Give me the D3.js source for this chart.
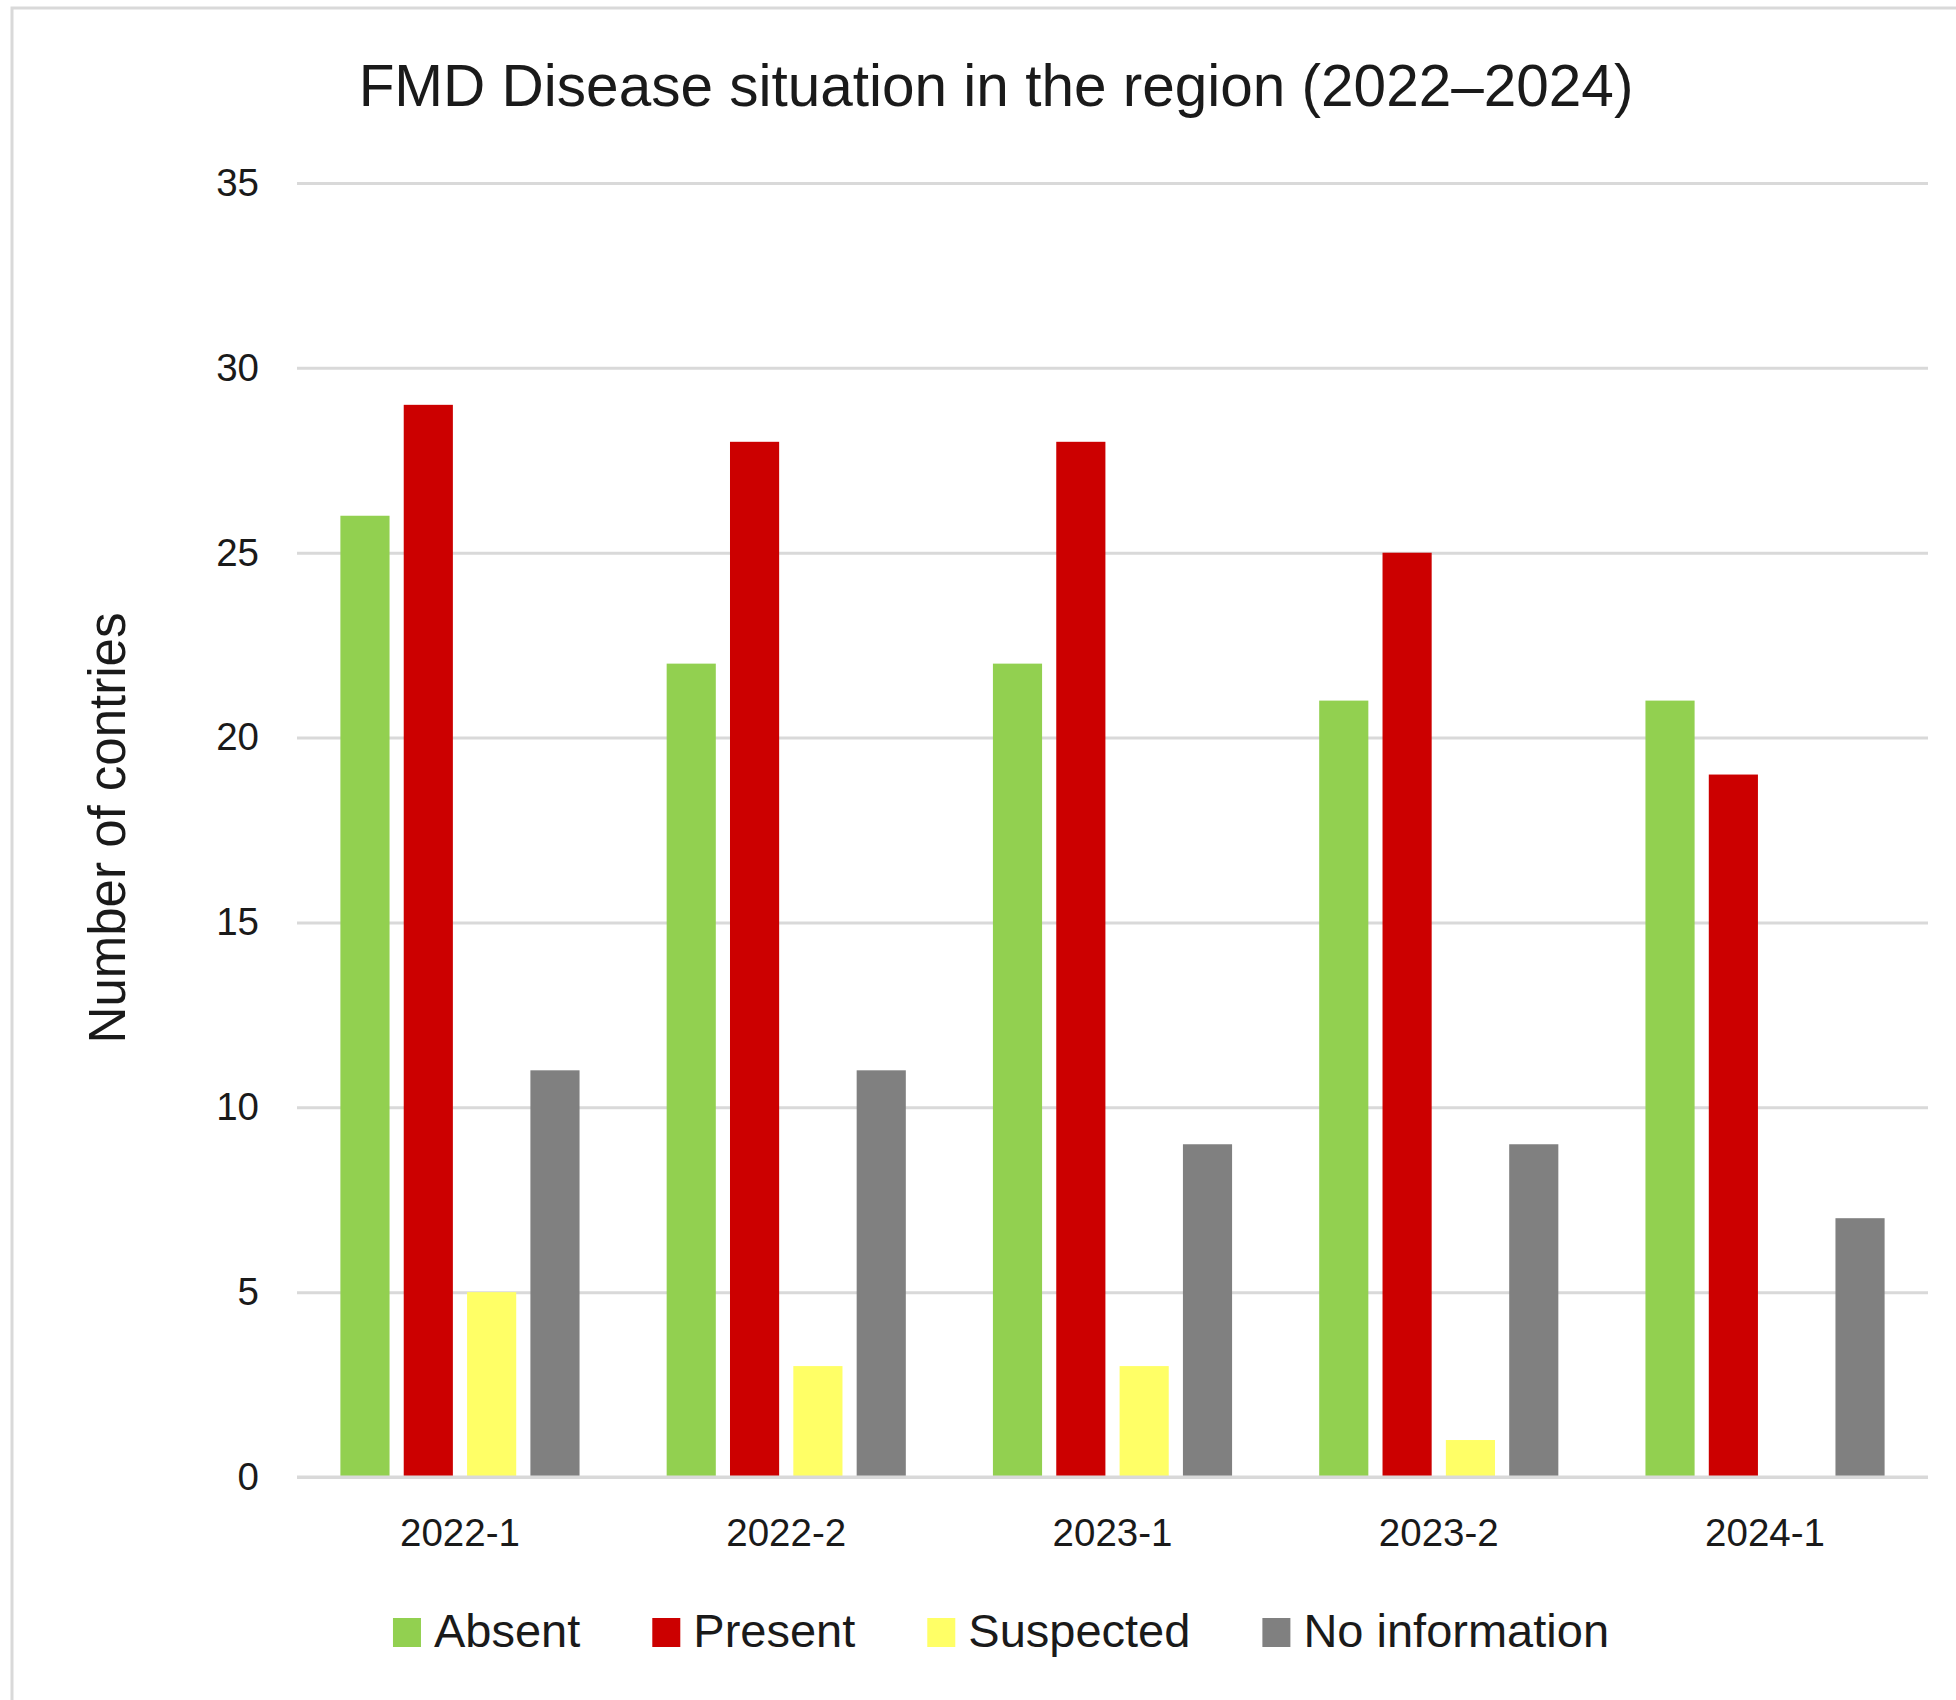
<!DOCTYPE html>
<html>
<head>
<meta charset="utf-8">
<script src="https://cdn.jsdelivr.net/npm/d3@7"></script>
<style>
  body { margin: 0; background: #fff; }
  text { font-family: "Liberation Sans", Arial, sans-serif; fill: #1a1a1a; }
</style>
</head>
<body>
<script>
// data
var periods = ["2022-1", "2022-2", "2023-1", "2023-2", "2024-1"];
var seriesNames = ["Absent", "Present", "Suspected", "No information"];
var absent = [26, 22, 22, 21, 21];
var present = [29, 28, 28, 25, 19];
var suspected = [5, 3, 3, 1, 0];
var noInfo = [11, 11, 9, 9, 7];
var yTicks = [0, 5, 10, 15, 20, 25, 30, 35];
var colors = ["#92d050", "#cc0000", "#ffff66", "#808080"];

var values = [absent, present, suspected, noInfo];

var width = 1956;
var height = 1700;
var margin = {left: 297, right: 28, top: 183, bottom: 223};
var w = width - margin.left - margin.right;
var h = height - margin.top - margin.bottom;

var svg = d3.select("body")
  .append("svg")
  .attr("width", width)
  .attr("height", height);

// chart frame (cropped on right and bottom)
svg.append("rect")
  .attr("x", 12)
  .attr("y", 8)
  .attr("width", 2000)
  .attr("height", 2000)
  .attr("fill", "none")
  .attr("stroke", "#d9d9d9")
  .attr("stroke-width", 3);

svg.append("text")
  .attr("x", 996)
  .attr("y", 106)
  .attr("text-anchor", "middle")
  .style("font-size", "58.5px")
  .text("FMD Disease situation in the region (2022\u20132024)");

var g = svg.append("g")
  .attr("transform", "translate(" + margin.left + "," + margin.top + ")");

var x0 = d3.scaleBand()
  .domain(periods)
  .range([0, w])
  .paddingInner(0.267)
  .paddingOuter(0.133);

var x1 = d3.scaleBand()
  .domain(d3.range(seriesNames.length))
  .range([0, x0.bandwidth()])
  .paddingInner(0.224);

var y = d3.scaleLinear()
  .domain([0, 35])
  .range([h, 0]);

// gridlines + y labels
var yAxis = g.append("g")
  .call(d3.axisLeft(y).tickValues(yTicks).tickSize(-w).tickPadding(38));
yAxis.select(".domain").remove();
yAxis.selectAll(".tick line")
  .attr("stroke", "#d9d9d9")
  .attr("stroke-width", 3);
yAxis.selectAll(".tick text")
  .style("font-size", "38.5px")
  .style("font-family", "Liberation Sans, Arial, sans-serif")
  .attr("fill", "#1a1a1a");

// bars
var groups = g.selectAll(".period")
  .data(periods)
  .enter()
  .append("g")
  .attr("class", "period")
  .attr("transform", function(d) { return "translate(" + x0(d) + ",0)"; });

groups.selectAll("rect")
  .data(function(d, i) {
    return values.map(function(s, j) { return {k: j, v: s[i]}; });
  })
  .enter()
  .append("rect")
  .attr("x", function(d) { return x1(d.k); })
  .attr("y", function(d) { return y(d.v); })
  .attr("width", x1.bandwidth())
  .attr("height", function(d) { return h - y(d.v); })
  .attr("fill", function(d) { return colors[d.k]; });

// baseline over the bars
g.append("line")
  .attr("x1", 0)
  .attr("x2", w)
  .attr("y1", y(0))
  .attr("y2", y(0))
  .attr("stroke", "#d9d9d9")
  .attr("stroke-width", 3);

// x labels
var xAxis = g.append("g")
  .attr("transform", "translate(0," + h + ")")
  .call(d3.axisBottom(x0).tickSize(0).tickPadding(42));
xAxis.select(".domain").remove();
xAxis.selectAll(".tick text")
  .style("font-size", "38.5px")
  .style("font-family", "Liberation Sans, Arial, sans-serif")
  .attr("fill", "#1a1a1a");

// y title
svg.append("text")
  .attr("transform", "translate(125,828) rotate(-90)")
  .attr("text-anchor", "middle")
  .style("font-size", "51px")
  .text("Number of contries");

// legend
var legend = svg.append("g");
var lx = 0;
seriesNames.forEach(function(name, i) {
  var item = legend.append("g").attr("transform", "translate(" + lx + ",0)");
  item.append("rect")
    .attr("x", 0)
    .attr("y", -29)
    .attr("width", 28)
    .attr("height", 29)
    .attr("fill", colors[i]);
  var t = item.append("text")
    .attr("x", 41)
    .attr("y", 0)
    .style("font-size", "47px")
    .text(name);
  lx += 41 + t.node().getComputedTextLength() + 72;
});
lx -= 72;
legend.attr("transform", "translate(" + (1001 - lx / 2) + ",1647)");
</script>
</body>
</html>
